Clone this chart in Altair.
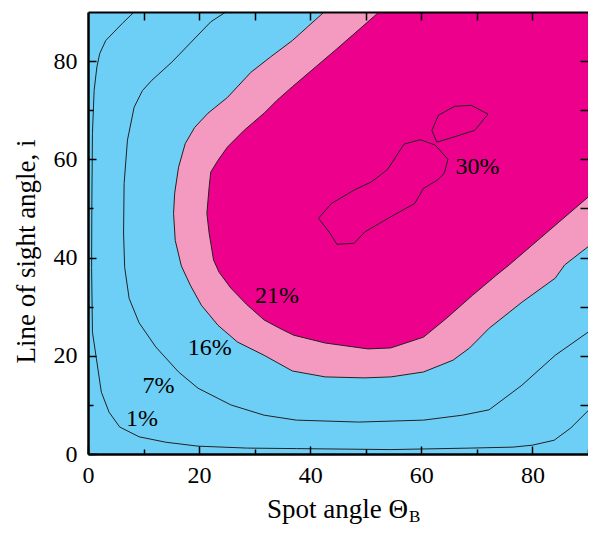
import altair as alt
import pandas as pd

# ---- contour levels (data coordinates) ----
C1_X = [8.3, 6.2, 3.2, 2.1, 1.6, 1.1, 0.8, 0.7, 0.65, 0.8, 1.5, 2.4, 3.8, 5.7, 9.2, 14.0, 19.8, 28.7, 37.5, 54.5, 68.7, 76.5, 80.0, 83.9, 86.9, 90.0]
C1_Y = [90, 87.7, 84.2, 81.5, 78.8, 74.0, 65.3, 51.7, 38.0, 24.8, 19.5, 12.6, 8.5, 5.5, 3.5, 2.4, 1.6, 1.2, 1.1, 0.9, 1.2, 1.4, 1.8, 2.8, 5.3, 8.8]

C7_X = [24.8, 22.1, 18.6, 15.1, 11.5, 9.8, 8.3, 7.1, 6.5, 6.4, 6.6, 7.4, 9.2, 12.2, 16.3, 19.8, 25.7, 31.7, 37.5, 48.7, 60.4, 67.4, 72.2, 78.1, 84.1, 90.0]
C7_Y = [90, 88.0, 83.9, 79.8, 76.1, 74.0, 70.6, 63.9, 55.1, 45.0, 38.0, 31.7, 26.7, 21.8, 16.7, 13.4, 10.0, 7.9, 6.9, 6.5, 6.9, 7.9, 9.0, 14.0, 20.1, 24.8]

C16_X = [42.5, 36.8, 32.8, 29.3, 25.1, 21.6, 19.2, 17.5, 16.3, 15.6, 15.4, 15.7, 16.8, 18.4, 20.4, 23.4, 26.9, 31.7, 36.8, 42.7, 49.7, 54.5, 60.4, 65.7, 68.7, 72.2, 78.1, 84.1, 85.8, 90.0]
C16_Y = [90, 84.2, 80.8, 77.7, 72.6, 69.4, 66.5, 63.2, 58.4, 53.1, 49.0, 43.5, 38.3, 34.4, 30.3, 26.2, 22.8, 20.1, 16.9, 15.7, 15.5, 15.7, 16.7, 19.1, 21.6, 25.6, 30.9, 35.8, 38.5, 42.2]

C21_X = [52.4, 44.6, 36.8, 34.0, 31.7, 28.1, 25.1, 23.4, 22.1, 21.8, 21.4, 21.8, 22.6, 23.6, 25.7, 28.6, 31.7, 34.5, 37.0, 42.7, 50.4, 54.5, 60.4, 64.6, 69.2, 73.5, 75.8, 82.9, 90.0]
C21_Y = [90, 82.3, 74.8, 72.0, 69.4, 65.9, 62.5, 59.8, 57.4, 54.3, 49.0, 45.0, 39.5, 37.0, 33.8, 30.4, 27.3, 25.6, 24.2, 22.6, 21.4, 21.6, 23.8, 27.7, 32.3, 36.4, 38.5, 45.4, 52.3]

C30A_X = [41.5, 43.8, 48.0, 51.0, 53.9, 56.9, 59.8, 62.5, 64.8, 64.1, 62.8, 60.4, 58.8, 54.5, 49.8, 47.9, 44.8, 43.6, 41.5]
C30A_Y = [48.0, 51.0, 53.8, 55.4, 57.9, 63.1, 64.0, 62.9, 60.0, 57.1, 55.7, 54.1, 51.0, 48.3, 45.2, 42.9, 42.7, 44.9, 48.0]

C30B_X = [61.9, 63.1, 66.0, 69.0, 72.0, 69.6, 66.0, 62.8, 61.9]
C30B_Y = [65.9, 69.0, 70.8, 71.0, 69.2, 65.9, 64.6, 63.5, 65.9]

CORNER_X = [90.0]
CORNER_Y = [90.0]

LABELS = ["1%", "7%", "16%", "21%", "30%"]
LABEL_X = [9.7, 12.7, 21.9, 34.0, 70.1]
LABEL_Y = [7.1, 13.8, 21.6, 32.1, 58.4]

X_LABEL_TICKS = [0, 20, 40, 60, 80]
X_MINOR_TICKS = [10, 30, 50, 70, 90]
Y_LABEL_TICKS = [0, 20, 40, 60, 80]
Y_MINOR_TICKS = [10, 30, 50, 70]
TOP_TICKS = [10, 20, 30, 40, 50, 60, 70, 80]
RIGHT_TICKS = [10, 20, 30, 40, 50, 60, 70, 80]

X_TITLE = "Spot angle Θ"
X_TITLE_SUB = ["B"]
Y_TITLE = "Line of sight angle, i"

BLUE = "#6DCFF6"
PINK = "#F49AC1"
MAGENTA = "#EC008C"
FONT = "Liberation Serif"


def df(xs, ys):
    return pd.DataFrame({"x": xs, "y": ys, "i": list(range(len(xs)))})


xscale = alt.Scale(domain=[0, 90], nice=False, zero=False)
yscale = alt.Scale(domain=[0, 90], nice=False, zero=False)


def tick_axis(orient, values, size, offset_px):
    return alt.Axis(orient=orient, values=values, offset=-offset_px, tickSize=size,
                    tickWidth=1.5, tickColor="black", ticks=True, labels=False,
                    domain=False, grid=False, title=None, zindex=2)


none_axis = None

ax_x_labels = alt.Axis(orient="bottom", values=X_LABEL_TICKS, ticks=False, tickSize=0,
                       domain=True, domainColor="black", domainWidth=2.5, grid=False,
                       labelFont=FONT, labelFontSize=24, labelColor="black", labelPadding=9,
                       labelFlush=False, format="d",
                       title=X_TITLE, titleFont=FONT, titleFontSize=27,
                       titleFontWeight="normal", titleColor="black",
                       titleX=249, titleY=63, titleAlign="center",
                       titleBaseline="alphabetic", zindex=2)
ax_y_labels = alt.Axis(orient="left", values=Y_LABEL_TICKS, ticks=False, tickSize=0,
                       domain=True, domainColor="black", domainWidth=2.5, grid=False,
                       labelFont=FONT, labelFontSize=24, labelColor="black", labelPadding=11,
                       labelFlush=False, format="d",
                       title=Y_TITLE, titleFont=FONT, titleFontSize=27,
                       titleFontWeight="normal", titleColor="black", titleAngle=270,
                       titleX=-54, titleY=239, titleAlign="center",
                       titleBaseline="alphabetic", zindex=2)
ax_x_top_domain = alt.Axis(orient="top", ticks=False, labels=False, domain=True,
                           domainColor="black", domainWidth=2.2, grid=False,
                           title=None, zindex=2)


def layer(data, mark, xaxis, yaxis):
    return alt.Chart(data).mark_line(**mark).encode(
        x=alt.X("x:Q", scale=xscale, axis=xaxis),
        y=alt.Y("y:Q", scale=yscale, axis=yaxis),
        order="i:Q",
    )


line_style = dict(stroke="#222222", strokeWidth=1.0)

pink_poly = layer(df(C16_X + CORNER_X + C16_X[:1], C16_Y + CORNER_Y + C16_Y[:1]),
                  dict(fill=PINK, stroke=PINK, strokeOpacity=0, strokeWidth=0.5),
                  ax_x_labels, ax_y_labels)
mag_poly = layer(df(C21_X + CORNER_X + C21_X[:1], C21_Y + CORNER_Y + C21_Y[:1]),
                 dict(fill=MAGENTA, stroke=MAGENTA, strokeOpacity=0, strokeWidth=0.5),
                 tick_axis("bottom", X_LABEL_TICKS, 8, 8), tick_axis("left", Y_LABEL_TICKS, 8, 8))
l1 = layer(df(C1_X, C1_Y), line_style,
           tick_axis("bottom", X_MINOR_TICKS, 5, 5), tick_axis("left", Y_MINOR_TICKS, 5, 5))
l7 = layer(df(C7_X, C7_Y), line_style,
           tick_axis("top", TOP_TICKS, 8, 8), tick_axis("right", RIGHT_TICKS, 8, 8))
l16 = layer(df(C16_X, C16_Y), line_style, ax_x_top_domain, none_axis)
l21 = layer(df(C21_X, C21_Y), line_style, none_axis, none_axis)
l30a = layer(df(C30A_X, C30A_Y), line_style, none_axis, none_axis)
l30b = layer(df(C30B_X, C30B_Y), line_style, none_axis, none_axis)

labels = alt.Chart(pd.DataFrame({"t": LABELS, "x": LABEL_X, "y": LABEL_Y})).mark_text(
    font=FONT, fontSize=24, color="black", align="center", baseline="middle"
).encode(
    x=alt.X("x:Q", scale=xscale, axis=None),
    y=alt.Y("y:Q", scale=yscale, axis=None),
    text="t:N",
)

sub = alt.Chart(pd.DataFrame({"t": X_TITLE_SUB})).mark_text(
    font=FONT, fontSize=17, color="black", align="left", baseline="alphabetic"
).encode(x=alt.value(321), y=alt.value(510), text="t:N")

chart = alt.layer(pink_poly, mag_poly, l1, l7, l16, l21, l30a, l30b, labels, sub).resolve_axis(
    x="independent", y="independent"
).properties(
    width=500, height=442,
    autosize=alt.AutoSizeParams(type="none"),
    padding={"left": 80, "top": 4, "right": 0, "bottom": 73},
).configure_view(fill=BLUE, stroke="transparent")

chart.save("out.html", embed_options={"renderer": "svg", "actions": False})
